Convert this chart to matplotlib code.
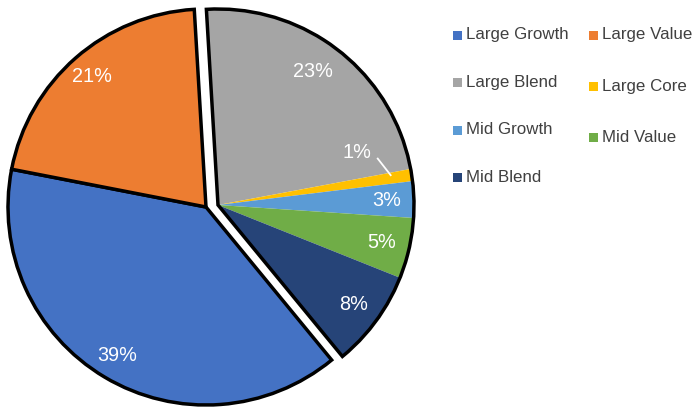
import numpy as np
import matplotlib.pyplot as plt
from matplotlib.patches import Wedge, Rectangle

plt.rcParams['font.family'] = ['Liberation Sans', 'DejaVu Sans']

# style-box shares, in percent
large_groups = ['Large Growth', 'Large Value']
large_shares = [39, 21]
other_groups = ['Large Blend', 'Large Core', 'Mid Growth', 'Mid Value', 'Mid Blend']
other_shares = [23, 1, 3, 5, 8]
colors = {
    'Large Growth': '#4472C4', 'Large Value': '#ED7D31', 'Large Blend': '#A5A5A5',
    'Large Core': '#FFC000', 'Mid Growth': '#5B9BD5', 'Mid Value': '#70AD47',
    'Mid Blend': '#264478',
}
legend_order = ['Large Growth', 'Large Value', 'Large Blend', 'Large Core',
                'Mid Growth', 'Mid Value', 'Mid Blend']

W, H = 696, 409
fig = plt.figure(figsize=(W / 100, H / 100), dpi=100)
ax = fig.add_axes([0, 0, 1, 1])

R = 198
c_left = (206, 202)
c_right = (218, 204)
split = 93.4  # boundary between the two groups, degrees ccw from +x

frac_l = np.array(large_shares) / 100
frac_r = np.array(other_shares) / 100
start_left = split - 360 * (1 - frac_l.sum())

wl, _ = ax.pie(frac_l, normalize=False, radius=R, center=c_left,
               startangle=start_left, counterclock=False,
               colors=[colors[k] for k in large_groups],
               wedgeprops=dict(edgecolor='black', linewidth=2.5))
wr, _ = ax.pie(frac_r, normalize=False, radius=R - 2, center=c_right,
               startangle=split, counterclock=False,
               colors=[colors[k] for k in other_groups],
               wedgeprops=dict(linewidth=0))
# outline round the pulled-out group
ax.add_patch(Wedge(c_right, R - 2, split - 360 * frac_r.sum(), split,
                   fill=False, edgecolor='black', linewidth=2.5, zorder=3))
ax.set_xlim(0, W)
ax.set_ylim(0, H)
ax.set_aspect('equal')
ax.axis('off')


def pt(center, r, ang):
    a = np.radians(ang)
    return center[0] + r * np.cos(a), center[1] + r * np.sin(a)


def label(w, center, val, frac, shift=0):
    mid = (w.theta1 + w.theta2) / 2 + shift
    x, y = pt(center, R * frac, mid)
    ax.text(x, y, f'{val}%', color='white', fontsize=14.3,
            ha='center', va='center', zorder=5)


for w, v in zip(wl, large_shares):
    label(w, c_left, v, 0.875)
for w, v, k in zip(wr, other_shares, other_groups):
    if k == 'Large Core':
        mid = (w.theta1 + w.theta2) / 2
        x0, y0 = pt(c_right, R * 0.885, mid + 1)
        x1, y1 = pt(c_right, R * 0.84, mid + 7.4)
        ax.plot([x0, x1], [y0, y1], color='white', lw=1.3, zorder=5)
        x, y = pt(c_right, R * 0.75, mid + 11.7)
        ax.text(x, y, f'{v}%', color='white', fontsize=14.3,
                ha='center', va='center', zorder=5)
    elif k == 'Large Blend':
        label(w, c_right, v, 0.83, shift=2.5)
    else:
        label(w, c_right, v, 0.85)

# legend, two columns laid out by hand
slots = [(453, 35), (589, 35), (453, 82), (589, 86),
         (453, 130), (589, 137), (453, 177)]
for name, (lx, ly) in zip(legend_order, slots):
    yy = H - ly
    ax.add_patch(Rectangle((lx, yy - 4.5), 9, 9, facecolor=colors[name],
                           edgecolor='none'))
    ax.text(lx + 13, yy, name, fontsize=12.2, color='#404040',
            ha='left', va='center')

fig.savefig('out.png', dpi=100)
